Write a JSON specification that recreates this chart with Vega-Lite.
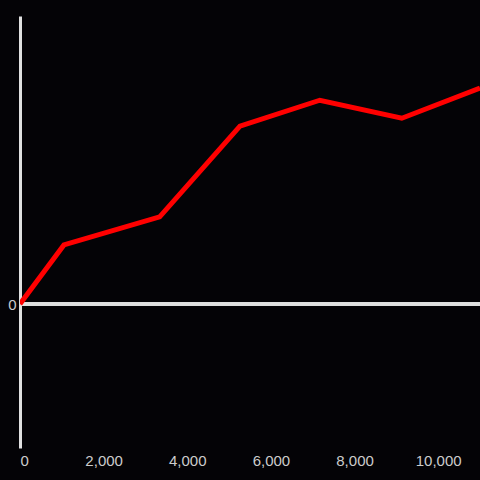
{
  "$schema": "https://vega.github.io/schema/vega-lite/v6.json",
  "width": 460,
  "height": 432,
  "autosize": "none",
  "padding": {"left": 20, "top": 16, "right": 0, "bottom": 32},
  "background": "#040306",
  "config": {
    "view": {"stroke": null}
  },
  "data": {"values": [
    {"x": 0, "y": 0},
    {"x": 1050, "y": 0.41},
    {"x": 3340, "y": 0.605},
    {"x": 5260, "y": 1.235},
    {"x": 7170, "y": 1.415},
    {"x": 9130, "y": 1.29},
    {"x": 11000, "y": 1.5}
  ]},
  "layer": [
    {
      "mark": {"type": "rule", "color": "#e0e0e0", "strokeWidth": 3},
      "encoding": {"y": {"datum": 0, "type": "quantitative", "scale": {"domain": [-1, 2], "nice": false},
              "axis": {"domain": true, "domainColor": "#e0e0e0", "domainWidth": 3, "ticks": false, "grid": false, "title": null, "values": [0],
                       "labelExpr": "'0'", "labelPadding": 4, "labelFont": "Liberation Sans", "labelFontSize": 15, "labelColor": "#cccccc"}}}
    },
    {
      "mark": {"type": "line", "color": "#ff0000", "strokeWidth": 5, "clip": true},
      "encoding": {
        "x": {"field": "x", "type": "quantitative", "scale": {"domain": [0, 11000], "nice": false},
              "axis": {"domain": false, "ticks": false, "grid": false, "title": null, "values": [0, 2000, 4000, 6000, 8000, 10000],
                       "labelExpr": "format(datum.value, ',')", "labelPadding": 5, "labelFont": "Liberation Sans", "labelFontSize": 15, "labelColor": "#cccccc"}},
        "y": {"field": "y", "type": "quantitative", "scale": {"domain": [-1, 2], "nice": false}}
      }
    }
  ]
}
